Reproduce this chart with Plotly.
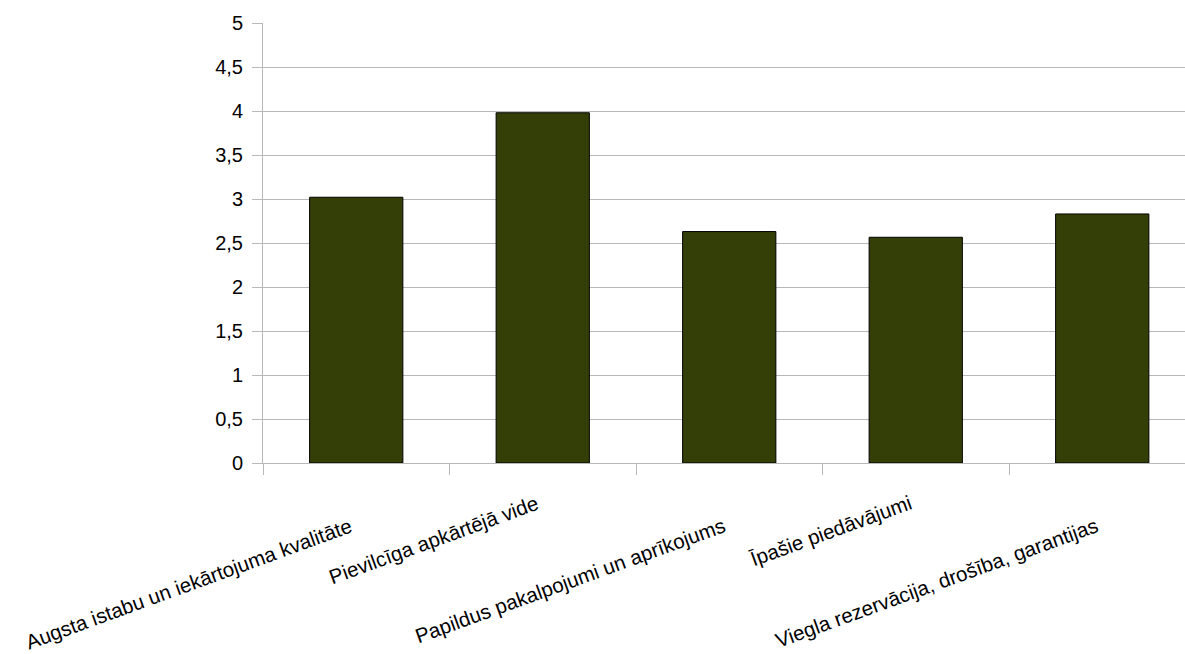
import plotly.graph_objects as go

# Category labels and average scores
categories = [
    "Augsta istabu un iekārtojuma kvalitāte",
    "Pievilcīga apkārtējā vide",
    "Papildus pakalpojumi un aprīkojums",
    "Īpašie piedāvājumi",
    "Viegla rezervācija, drošība, garantijas",
]
scores = [3.02, 3.98, 2.63, 2.565, 2.83]

y_ticks = [0, 0.5, 1, 1.5, 2, 2.5, 3, 3.5, 4, 4.5, 5]
y_tick_text = ["0", "0,5", "1", "1,5", "2", "2,5", "3", "3,5", "4", "4,5", "5"]

FONT = "Liberation Sans, Arial, sans-serif"
GRID = "#b8b8b8"

n = len(categories)
positions = list(range(n))
# tick marks sit between categories
boundaries = [i - 0.5 for i in range(n + 1)]

fig = go.Figure(
    go.Bar(
        x=positions,
        y=scores,
        width=0.5,
        marker=dict(color="#333f07", line=dict(color="#000000", width=1)),
        hoverinfo="skip",
    )
)

# Staggered, rotated category labels ending at each category centre
label_y = [-0.112, -0.06]
annotations = []
for i, name in enumerate(categories):
    annotations.append(
        dict(
            x=i,
            y=label_y[i % 2],
            xref="x",
            yref="paper",
            text=name,
            showarrow=False,
            textangle=-20,
            xanchor="right",
            yanchor="top",
            borderpad=0,
            font=dict(family=FONT, size=20.5, color="#000000"),
        )
    )

fig.update_layout(
    width=1185,
    height=654,
    margin=dict(l=263, r=0, t=23, b=191),
    paper_bgcolor="white",
    plot_bgcolor="white",
    showlegend=False,
    font=dict(family=FONT, size=20, color="#000000"),
    annotations=annotations,
    xaxis=dict(
        range=[-0.5, 4.4437],
        tickmode="array",
        tickvals=boundaries,
        ticktext=[""] * len(boundaries),
        ticks="outside",
        ticklen=11,
        tickcolor=GRID,
        showgrid=False,
        showline=True,
        linecolor=GRID,
        linewidth=1,
        zeroline=False,
        fixedrange=True,
    ),
    yaxis=dict(
        range=[0, 5],
        tickmode="array",
        tickvals=y_ticks,
        ticktext=y_tick_text,
        ticks="outside",
        ticklen=10,
        tickcolor=GRID,
        ticklabelstandoff=5,
        showgrid=True,
        gridcolor=GRID,
        gridwidth=1,
        showline=True,
        linecolor=GRID,
        linewidth=1,
        zeroline=False,
        tickfont=dict(family=FONT, size=20, color="#000000"),
        fixedrange=True,
    ),
)

fig.write_html("out.html", config=dict(displayModeBar=False))
